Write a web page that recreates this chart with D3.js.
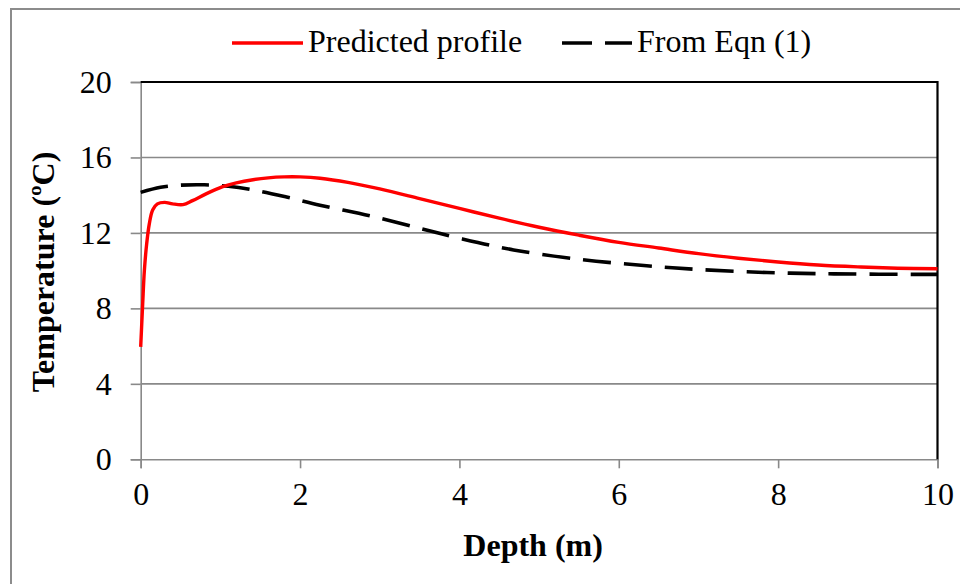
<!DOCTYPE html>
<html>
<head>
<meta charset="utf-8">
<script src="https://cdn.jsdelivr.net/npm/d3@7"></script>
<style>
  html, body { margin: 0; padding: 0; background: #fff; }
  svg { display: block; }
  svg text { font-family: "Liberation Serif", Tinos, "Times New Roman", Times, "DejaVu Serif", serif; }
</style>
</head>
<body>
<svg id="chart" width="960" height="584"></svg>
<script>
// Predicted temperature profile (red, solid)
const depthPred = [0, 0.025, 0.046, 0.075, 0.108, 0.15, 0.21, 0.30, 0.40, 0.53, 0.65, 0.82, 1.03, 1.2, 1.41, 1.6, 1.8, 2.0, 2.25, 2.6, 3.0, 3.5, 4.0, 4.5, 5.0, 5.5, 6.0, 6.5, 7.0, 7.5, 8.0, 8.5, 9.0, 9.5, 10];
const tempPred  = [5.96, 8.25, 10.0, 11.42, 12.48, 13.22, 13.54, 13.62, 13.54, 13.5, 13.71, 14.07, 14.45, 14.65, 14.82, 14.92, 14.97, 14.97, 14.9, 14.68, 14.33, 13.82, 13.3, 12.78, 12.3, 11.88, 11.5, 11.2, 10.9, 10.66, 10.46, 10.3, 10.2, 10.13, 10.1];

// Profile from Eqn (1) (black, dashed)
const depthEqn = [0, 0.25, 0.5, 0.8, 1.1, 1.41, 1.83, 2.25, 2.88, 3.5, 4.0, 4.68, 5.5, 6.35, 7.0, 7.86, 8.7, 10];
const tempEqn  = [14.15, 14.42, 14.53, 14.55, 14.47, 14.28, 13.9, 13.47, 12.9, 12.25, 11.72, 11.1, 10.6, 10.26, 10.06, 9.9, 9.83, 9.8];

const xTicks = [0, 2, 4, 6, 8, 10];
const yTicks = [0, 4, 8, 12, 16, 20];
const seriesNames = ["Predicted profile", "From Eqn (1)"];

const svg = d3.select("#chart");
const plotLeft = 140.7, plotRight = 937.5, plotTop = 82, plotBottom = 459.3;
const FONT = 32;
const GRID = "#898989";

const x = d3.scaleLinear().domain([0, 10]).range([plotLeft, plotRight]);
const y = d3.scaleLinear().domain([0, 20]).range([plotBottom, plotTop]);

// outer chart frame
svg.append("rect")
  .attr("x", 11).attr("y", 9).attr("width", 980).attr("height", 600)
  .attr("fill", "none").attr("stroke", "#8c8c8c").attr("stroke-width", 2);

// horizontal gridlines
svg.append("g").selectAll("line").data(yTicks.filter(d => d > 0)).join("line")
  .attr("x1", plotLeft).attr("x2", plotRight)
  .attr("y1", d => y(d)).attr("y2", d => y(d))
  .attr("stroke", GRID).attr("stroke-width", 1.6);

// y axis (gray, outside ticks)
const yAxis = svg.append("g")
  .attr("transform", `translate(${plotLeft},0)`)
  .call(d3.axisLeft(y).tickValues(yTicks).tickSize(10).tickPadding(19).tickFormat(d3.format("d")));
yAxis.attr("font-family", null);
yAxis.select(".domain").attr("stroke", GRID).attr("stroke-width", 1.6);
yAxis.selectAll(".tick line").attr("stroke", GRID).attr("stroke-width", 1.6);
yAxis.selectAll(".tick text").attr("font-size", FONT).attr("fill", "#000");

// x axis (gray, outside ticks)
const xAxis = svg.append("g")
  .attr("transform", `translate(0,${plotBottom})`)
  .call(d3.axisBottom(x).tickValues(xTicks).tickSize(9).tickPadding(14).tickFormat(d3.format("d")));
xAxis.attr("font-family", null);
xAxis.select(".domain").attr("stroke", GRID).attr("stroke-width", 1.6);
xAxis.selectAll(".tick line").attr("stroke", GRID).attr("stroke-width", 1.6);
xAxis.selectAll(".tick text").attr("font-size", FONT).attr("fill", "#000");

// plot frame: top and right edges in black
svg.append("path")
  .attr("d", `M${plotLeft},${plotTop}H${plotRight}V${plotBottom}`)
  .attr("fill", "none").attr("stroke", "#000").attr("stroke-width", 2.2);

// series lines
const line = d3.line().x(d => x(d[0])).y(d => y(d[1])).curve(d3.curveCatmullRom.alpha(0.5));
const predPts = depthPred.map((d, i) => [d, tempPred[i]]);
const eqnPts = depthEqn.map((d, i) => [d, tempEqn[i]]);

svg.append("path").datum(eqnPts)
  .attr("d", line).attr("fill", "none")
  .attr("stroke", "#000").attr("stroke-width", 3.6)
  .attr("stroke-dasharray", "28,13");

svg.append("path").datum(predPts)
  .attr("d", line).attr("fill", "none")
  .attr("stroke", "#ff0000").attr("stroke-width", 3.4)
  .attr("stroke-linejoin", "round");

// axis titles
svg.append("text")
  .attr("x", (plotLeft + plotRight) / 2 - 6).attr("y", 556)
  .attr("text-anchor", "middle").attr("font-weight", "bold")
  .attr("font-size", FONT).text("Depth (m)");

svg.append("text")
  .attr("transform", "translate(54,272) rotate(-90)")
  .attr("text-anchor", "middle").attr("font-weight", "bold")
  .attr("font-size", FONT).text("Temperature (ºC)");

// legend
const lg = svg.append("g");
lg.append("line").attr("x1", 232).attr("x2", 303).attr("y1", 43).attr("y2", 43)
  .attr("stroke", "#ff0000").attr("stroke-width", 3.6);
lg.append("text").attr("x", 308).attr("y", 52).attr("font-size", FONT).text(seriesNames[0]);
lg.append("line").attr("x1", 562).attr("x2", 632).attr("y1", 43).attr("y2", 43)
  .attr("stroke", "#000").attr("stroke-width", 3.6).attr("stroke-dasharray", "30,13");
lg.append("text").attr("x", 637).attr("y", 52).attr("font-size", FONT).text(seriesNames[1]);
</script>
</body>
</html>
